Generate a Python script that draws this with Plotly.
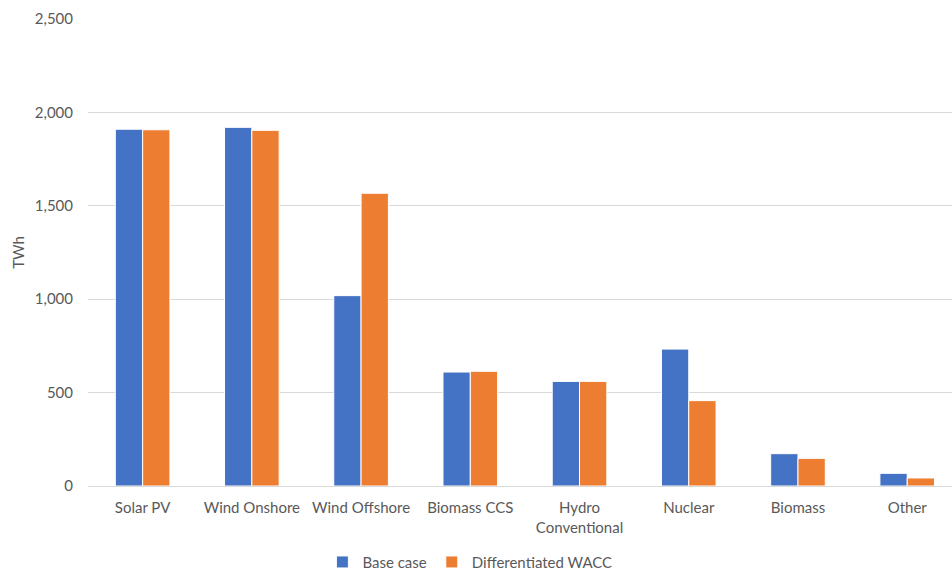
import plotly.graph_objects as go

categories = ["Solar PV", "Wind Onshore", "Wind Offshore", "Biomass CCS",
              "Hydro<br>Conventional", "Nuclear", "Biomass", "Other"]
base_case = [1910, 1920, 1019, 610, 560, 733, 173, 68]
diff_wacc = [1907, 1904, 1567, 614, 560, 457, 148, 43]
y_ticks = [0, 500, 1000, 1500, 2000, 2500]
y_tick_labels = ["0", "500", "1,000", "1,500", "2,000", "2,500"]

font_family = "Lato, Open Sans, sans-serif"
text_color = "#595959"

fig = go.Figure()
fig.add_trace(go.Bar(
    name="Base case", x=categories, y=base_case,
    marker=dict(color="#4472C4", line=dict(color="white", width=1)),
))
fig.add_trace(go.Bar(
    name="Differentiated WACC", x=categories, y=diff_wacc,
    marker=dict(color="#ED7D31", line=dict(color="white", width=1)),
))

fig.update_layout(
    width=952, height=572,
    margin=dict(l=88, r=0, t=19, b=86),
    paper_bgcolor="white", plot_bgcolor="white",
    barmode="group", bargap=0.5, bargroupgap=0.0,
    font=dict(family=font_family, size=15, color=text_color),
    showlegend=True,
    legend=dict(orientation="h", x=0.442, xanchor="center",
                yref="container", y=0.046, yanchor="top",
                font=dict(size=15, color=text_color),
                itemwidth=30, traceorder="normal"),
    xaxis=dict(type="category", range=[-0.5, 7.41], showgrid=False,
               showline=True, linecolor="#d9d9d9", linewidth=1,
               ticks="", ticklabelstandoff=8, automargin=False,
               tickfont=dict(size=15, color=text_color)),
    yaxis=dict(range=[0, 2500], tickvals=y_ticks, ticktext=y_tick_labels,
               showgrid=True, gridcolor="#d9d9d9", gridwidth=1,
               zeroline=False, showline=False, ticks="",
               ticklabelstandoff=14, automargin=False,
               tickfont=dict(size=15, color=text_color),
               title=dict(text="TWh", standoff=6,
                          font=dict(size=15, color=text_color))),
)

fig.write_html("out.html")
